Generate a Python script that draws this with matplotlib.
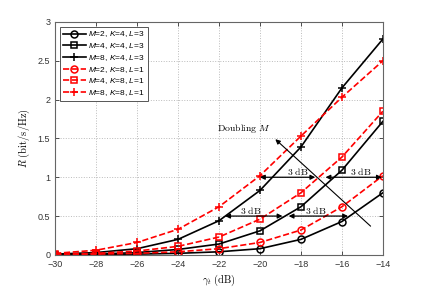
import matplotlib
matplotlib.use("Agg")
import matplotlib.pyplot as plt

gamma = [-30, -28, -26, -24, -22, -20, -18, -16, -14]

r_m2_k4 = [0.0, 0.0, 0.01, 0.02, 0.04, 0.08, 0.20, 0.43, 0.80]
r_m4_k4 = [0.0, 0.01, 0.03, 0.07, 0.14, 0.31, 0.62, 1.09, 1.72]
r_m8_k4 = [0.01, 0.03, 0.08, 0.20, 0.44, 0.83, 1.39, 2.15, 2.78]
r_m2_k8 = [0.0, 0.01, 0.02, 0.04, 0.08, 0.16, 0.32, 0.62, 1.02]
r_m4_k8 = [0.01, 0.02, 0.05, 0.11, 0.23, 0.46, 0.80, 1.26, 1.85]
r_m8_k8 = [0.02, 0.06, 0.16, 0.33, 0.62, 1.02, 1.53, 2.03, 2.50]

labels = [r"$M$=2, $K$=4, $L$=3", r"$M$=4, $K$=4, $L$=3", r"$M$=8, $K$=4, $L$=3",
          r"$M$=2, $K$=8, $L$=1", r"$M$=4, $K$=8, $L$=1", r"$M$=8, $K$=8, $L$=1"]

xticks = [-30, -28, -26, -24, -22, -20, -18, -16, -14]
yticks = [0, 0.5, 1, 1.5, 2, 2.5, 3]

plt.rcParams['font.family'] = ['Liberation Sans', 'DejaVu Sans']
plt.rcParams['mathtext.fontset'] = 'custom'
plt.rcParams['mathtext.it'] = 'Liberation Sans:italic'
plt.rcParams['mathtext.rm'] = 'Liberation Sans'

fig = plt.figure(figsize=(4.24, 2.89), dpi=100)
ax = fig.add_axes([0.130, 0.118, 0.773, 0.806])

series = [
    (r_m2_k4, 'k', '-', 'o', labels[0]),
    (r_m4_k4, 'k', '-', 's', labels[1]),
    (r_m8_k4, 'k', '-', '+', labels[2]),
    (r_m2_k8, 'r', '--', 'o', labels[3]),
    (r_m4_k8, 'r', '--', 's', labels[4]),
    (r_m8_k8, 'r', '--', '+', labels[5]),
]
for y, c, ls, m, lab in series:
    ms = 6 if m == '+' else (5 if m == 'o' else 4.5)
    ax.plot(gamma, y, color=c, linestyle=ls, marker=m, markersize=ms,
            markerfacecolor='none', markeredgecolor=c, markeredgewidth=1.1,
            linewidth=1.2, label=lab)

ax.set_xlim(-30, -14)
ax.set_ylim(0, 3)
ax.set_xticks(xticks)
ax.set_yticks(yticks)
ax.set_xticklabels(['\u221230', '\u221228', '\u221226', '\u221224', '\u221222',
                    '\u221220', '\u221218', '\u221216', '\u221214'])
ax.set_yticklabels(['0', '0.5', '1', '1.5', '2', '2.5', '3'])
ax.tick_params(direction='in', labelsize=6.5, length=3, width=0.6, colors='#333333',
               top=True, right=True)
for s in ax.spines.values():
    s.set_color('#666666')
    s.set_linewidth(0.8)
ax.grid(True, linestyle=':', color='#bbbbbb', linewidth=0.7)

ax.set_xlabel(r'$\gamma_t\ \mathrm{(dB)}$', fontsize=7.5, math_fontfamily='cm', labelpad=3)
ax.set_ylabel(r'$R\ \mathrm{(bit/s/Hz)}$', fontsize=7.5, math_fontfamily='cm', labelpad=4)

leg = ax.legend(loc='upper left', fontsize=6, handlelength=2.8, handletextpad=0.3,
                labelspacing=0.22, borderpad=0.3, borderaxespad=0.6,
                fancybox=False, edgecolor='#555555', framealpha=1)
leg.get_frame().set_linewidth(0.7)

arrow_kw = dict(arrowstyle='<|-|>', color='k', lw=0.9, mutation_scale=7,
                shrinkA=0, shrinkB=0)
# upper 3 dB arrows (R=1)
ax.annotate('', xy=(-17.3, 1.0), xytext=(-20.0, 1.0), arrowprops=arrow_kw)
ax.annotate('', xy=(-14.05, 1.0), xytext=(-16.8, 1.0), arrowprops=arrow_kw)
# lower 3 dB arrows (R=0.5)
ax.annotate('', xy=(-18.9, 0.5), xytext=(-21.7, 0.5), arrowprops=arrow_kw)
ax.annotate('', xy=(-15.7, 0.5), xytext=(-18.6, 0.5), arrowprops=arrow_kw)

tkw = dict(fontsize=7, math_fontfamily='cm', ha='center', va='center')
ax.text(-18.15, 1.08, r'$\mathrm{3\ dB}$', **tkw)
ax.text(-15.1, 1.08, r'$\mathrm{3\ dB}$', **tkw)
ax.text(-20.45, 0.57, r'$\mathrm{3\ dB}$', **tkw)
ax.text(-17.3, 0.57, r'$\mathrm{3\ dB}$', **tkw)

# Doubling M arrow
ax.annotate('', xy=(-19.25, 1.49), xytext=(-14.6, 0.37),
            arrowprops=dict(arrowstyle='-|>', color='k', lw=0.8, mutation_scale=7,
                            shrinkA=0, shrinkB=0))
ax.text(-20.8, 1.63, r'$\mathrm{Doubling}\ M$', **tkw)

fig.savefig('out.png', dpi=100)
